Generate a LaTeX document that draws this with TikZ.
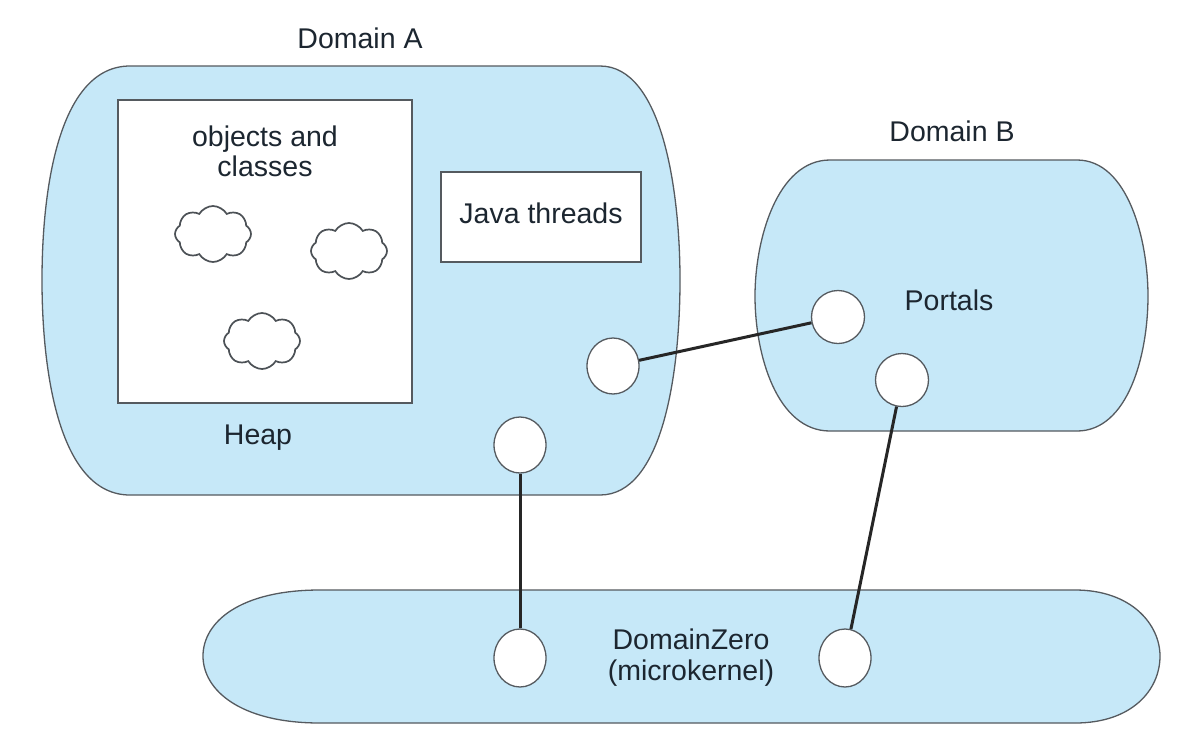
\documentclass[tikz,border=0pt]{standalone}
\usepackage{fontspec}
\setmainfont{Liberation Sans}
\usetikzlibrary{shapes.geometric,shapes.symbols}
\definecolor{domfill}{RGB}{198,232,248}
\definecolor{edge}{RGB}{85,90,95}
\definecolor{txt}{RGB}{28,38,48}
\tikzset{
  dshape/.style={draw=edge,fill=domfill,line width=1.3pt},
  whitebox/.style={draw=edge,fill=white,line width=1.3pt},
  port/.style={ellipse,draw=edge,fill=white,line width=1.3pt,minimum width=52pt,minimum height=56pt,inner sep=0pt},
  cloudy/.style={cloud,cloud puffs=8,cloud puff arc=120,aspect=1.3,draw=edge!90!black,fill=white,line width=1.7pt,minimum width=76pt,minimum height=56pt,inner sep=0pt},
  conn/.style={draw=black!85,line width=3pt},
  lbl/.style={text=txt,font=\fontsize{28.5}{33}\selectfont,align=center,inner sep=0pt}
}
\begin{document}
\begin{tikzpicture}[x=1pt,y=-1pt]
\useasboundingbox (0,0) rectangle (1186,748);
\fill[white] (0,0) rectangle (1186,748);
% Domain A
\path[dshape] (130,66) -- (600,66) .. controls (662,66) and (680,190) .. (680,280)
  .. controls (680,375) and (662,495) .. (600,495) -- (130,495)
  .. controls (60,495) and (42,375) .. (42,280) .. controls (42,185) and (60,66) .. (130,66);
% Domain B
\path[dshape] (830,160) -- (1077,160) .. controls (1128,160) and (1148,240) .. (1148,296)
  .. controls (1148,355) and (1128,431) .. (1077,431) -- (830,431)
  .. controls (777,431) and (755,355) .. (755,296) .. controls (755,240) and (777,160) .. (830,160);
% DomainZero
\path[dshape] (320,590) -- (1075,590) .. controls (1132,590) and (1160,625) .. (1160,656)
  .. controls (1160,690) and (1132,723) .. (1075,723) -- (320,723)
  .. controls (240,723) and (203,690) .. (203,656) .. controls (203,622) and (240,590) .. (320,590);
% heap box and java threads box
\node[whitebox,minimum width=294pt,minimum height=303pt,inner sep=0pt] (heapbox) at (265,251.5) {};
\node[whitebox,minimum width=200pt,minimum height=90pt,inner sep=0pt] (jt) at (541,217) {};
\node[lbl] (jtlabel) at (541,213) {Java threads};
% labels
\node[lbl] (dA) at (360,38) {Domain A};
\node[lbl] (dB) at (952,131) {Domain B};
\node[lbl] (objs) at (265,151) {objects and\\[-3pt]classes};
\node[lbl] (heap) at (258,438) {Heap};
\node[lbl] (portals) at (949,300) {Portals};
\node[lbl] (dz) at (691,658) {DomainZero\\[-2pt](microkernel)};
% clouds
\node[cloudy] (c1) at (213,234) {};
\node[cloudy] (c2) at (349,251) {};
\node[cloudy] (c3) at (262,341) {};
% ports
\node[port] (pa) at (613,366) {};
\node[port] (pb) at (520,445) {};
\node[port,minimum width=53pt,minimum height=53pt] (b1) at (838,317) {};
\node[port,minimum width=53pt,minimum height=53pt] (b2) at (902,380) {};
\node[port,minimum height=58pt] (z1) at (520,658) {};
\node[port,minimum height=58pt] (z2) at (845,658) {};
% connectors
\draw[conn] (pa) -- (b1);
\draw[conn] (pb) -- (z1);
\draw[conn] (b2) -- (z2);
\end{tikzpicture}
\end{document}
